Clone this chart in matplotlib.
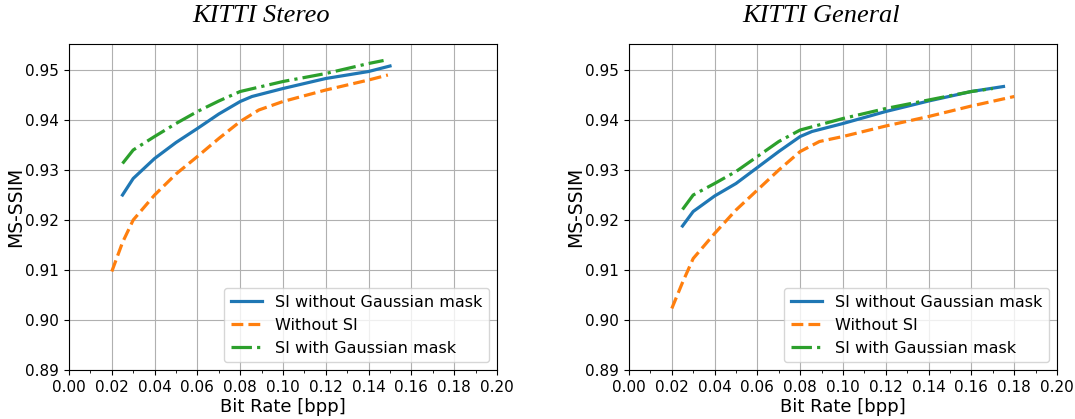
import matplotlib
matplotlib.use('Agg')
import matplotlib.pyplot as plt
from matplotlib.ticker import MultipleLocator

# KITTI Stereo
st_blue_x = [0.025, 0.03, 0.04, 0.05, 0.06, 0.07, 0.08, 0.0855, 0.10, 0.12, 0.14, 0.15]
st_blue_y = [0.925, 0.9283, 0.9323, 0.9355, 0.9383, 0.9412, 0.9437, 0.9447, 0.9463, 0.9483, 0.9497, 0.9508]
st_orange_x = [0.02, 0.025, 0.03, 0.04, 0.05, 0.06, 0.07, 0.08, 0.0887, 0.10, 0.12, 0.14, 0.149]
st_orange_y = [0.9097, 0.9155, 0.920, 0.925, 0.9292, 0.9327, 0.9363, 0.9397, 0.942, 0.9437, 0.946, 0.948, 0.949]
st_green_x = [0.025, 0.03, 0.04, 0.05, 0.06, 0.07, 0.08, 0.10, 0.12, 0.14, 0.147]
st_green_y = [0.9313, 0.934, 0.9367, 0.9393, 0.9417, 0.9438, 0.9457, 0.9477, 0.9493, 0.9513, 0.9519]

# KITTI General
ge_blue_x = [0.025, 0.03, 0.04, 0.05, 0.06, 0.07, 0.08, 0.0855, 0.10, 0.12, 0.14, 0.16, 0.175]
ge_blue_y = [0.9188, 0.9217, 0.9248, 0.9273, 0.9305, 0.9337, 0.9367, 0.9377, 0.9393, 0.9417, 0.9438, 0.9457, 0.9467]
ge_orange_x = [0.02, 0.025, 0.03, 0.04, 0.05, 0.06, 0.07, 0.08, 0.089, 0.10, 0.12, 0.14, 0.16, 0.18]
ge_orange_y = [0.9023, 0.9075, 0.9123, 0.9173, 0.922, 0.926, 0.930, 0.9337, 0.9357, 0.9367, 0.9388, 0.9407, 0.9428, 0.9447]
ge_green_x = [0.025, 0.03, 0.04, 0.05, 0.06, 0.07, 0.08, 0.10, 0.12, 0.14, 0.16, 0.17]
ge_green_y = [0.9221, 0.925, 0.9273, 0.9297, 0.9327, 0.9357, 0.938, 0.9403, 0.9423, 0.944, 0.9457, 0.9463]

labels = ['SI without Gaussian mask', 'Without SI', 'SI with Gaussian mask']
titles = ['KITTI Stereo', 'KITTI General']

fig = plt.figure(figsize=(10.75, 4.19), dpi=100)
ax1 = fig.add_axes([69/1075, 1-370/419, 428/1075, 326/419])
ax2 = fig.add_axes([629/1075, 1-370/419, 428/1075, 326/419])

data = [
    (st_blue_x, st_blue_y, st_orange_x, st_orange_y, st_green_x, st_green_y),
    (ge_blue_x, ge_blue_y, ge_orange_x, ge_orange_y, ge_green_x, ge_green_y),
]

lw = 2.3
for ax, d, t in zip([ax1, ax2], data, titles):
    bx, by, ox, oy, gx, gy = d
    ax.plot(bx, by, '-', color='#1f77b4', lw=lw, label=labels[0])
    ax.plot(ox, oy, '--', color='#ff7f0e', lw=lw, label=labels[1])
    ax.plot(gx, gy, '-.', color='#2ca02c', lw=lw, label=labels[2])
    ax.set_xlim(0, 0.2)
    ax.set_ylim(0.89, 0.9552)
    ax.xaxis.set_major_locator(MultipleLocator(0.02))
    ax.xaxis.set_minor_locator(MultipleLocator(0.01))
    ax.yaxis.set_major_locator(MultipleLocator(0.01))
    ax.xaxis.set_major_formatter(matplotlib.ticker.FormatStrFormatter('%.2f'))
    ax.yaxis.set_major_formatter(matplotlib.ticker.FormatStrFormatter('%.2f'))
    ax.tick_params(labelsize=11)
    ax.grid(True, which='major')
    ax.set_xlabel('Bit Rate [bpp]', fontsize=13, labelpad=2)
    ax.set_ylabel('MS-SSIM', fontsize=13.5, labelpad=0)
    ax.set_title(t, x=0.45, fontsize=19, fontstyle='italic', family='Liberation Serif', pad=16)
    ax.legend(loc='lower right', fontsize=11.5)

fig.savefig('out.png', dpi=100)
